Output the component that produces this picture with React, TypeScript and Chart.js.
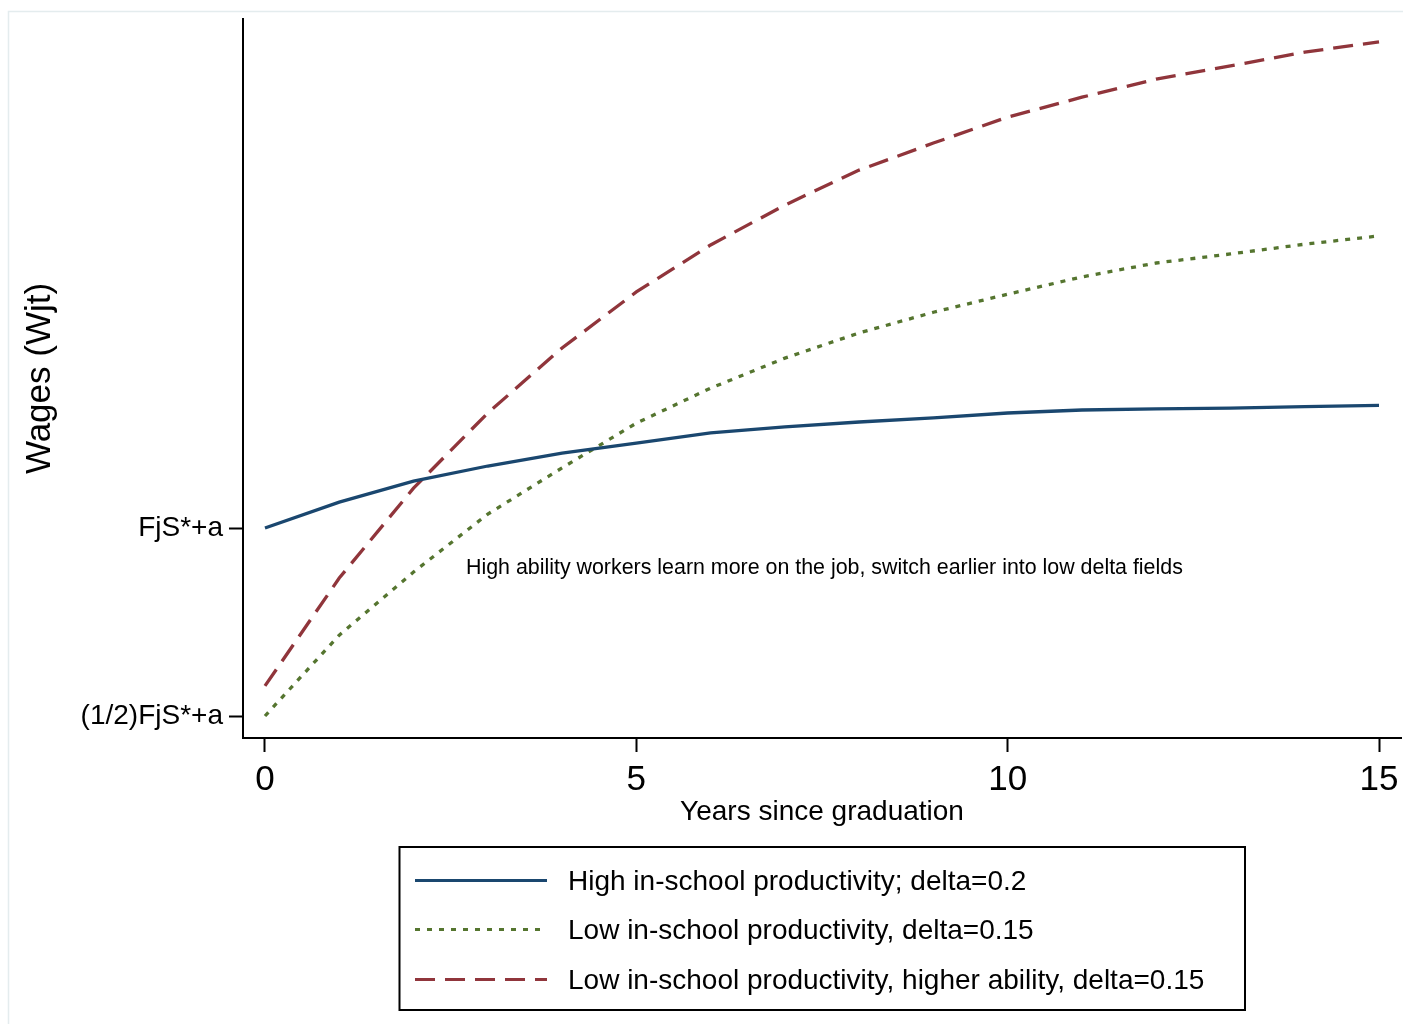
import React, { useEffect, useRef } from "react";
import { Chart, registerables } from "chart.js";

Chart.register(...registerables);

// ---- data ----
const years = [0, 1, 2, 3, 4, 5, 6, 7, 8, 9, 10, 11, 12, 13, 14, 15];
const highProductivity = [1.0, 1.069, 1.125, 1.165, 1.199, 1.226, 1.253, 1.269, 1.282, 1.293, 1.306, 1.314, 1.317, 1.319, 1.323, 1.326];
const lowProductivity = [0.5, 0.715, 0.883, 1.037, 1.16, 1.279, 1.372, 1.452, 1.519, 1.574, 1.622, 1.668, 1.705, 1.729, 1.755, 1.777];
const lowProductivityHighAbility = [0.58, 0.867, 1.106, 1.306, 1.479, 1.628, 1.753, 1.859, 1.952, 2.024, 2.093, 2.146, 2.194, 2.229, 2.266, 2.293];
const seriesLabels = [
  "High in-school productivity; delta=0.2",
  "Low in-school productivity, delta=0.15",
  "Low in-school productivity, higher ability, delta=0.15",
];
const xTickValues = [0, 5, 10, 15];
const yTickValues = [0.5, 1];
const yTickLabels = ["(1/2)FjS*+a", "FjS*+a"];
const xAxisTitle = "Years since graduation";
const yAxisTitle = "Wages (Wjt)";
const annotationText = "High ability workers learn more on the job, switch earlier into low delta fields";
const annotationX = 2.706;
const annotationY = 0.894;
const xMin = -0.296;
const xMax = 15.296;
const yMin = 0.4415;
const yMax = 2.354;

const FONT = "'Liberation Sans', Arial, Helvetica, sans-serif";

const toPoints = (vals: number[]) => years.map((x, i) => ({ x, y: vals[i] }));

const zeroPadding = (scale: any) => {
  scale.paddingTop = 0;
  scale.paddingBottom = 0;
  scale.paddingLeft = 0;
  scale.paddingRight = 0;
};

const outerFrame = {
  id: "outerFrame",
  beforeDraw(chart: any) {
    const ctx = chart.ctx;
    ctx.save();
    ctx.fillStyle = "#ffffff";
    ctx.fillRect(0, 0, chart.width, chart.height);
    ctx.strokeStyle = "#e4ecee";
    ctx.lineWidth = 1.5;
    ctx.strokeRect(8.5, 11.5, chart.width + 10, chart.height);
    ctx.restore();
  },
};

const annotation = {
  id: "annotationText",
  afterDatasetsDraw(chart: any) {
    const ctx = chart.ctx;
    const xs = chart.scales.x;
    const ys = chart.scales.y;
    ctx.save();
    ctx.font = `21.4px ${FONT}`;
    ctx.fillStyle = "#000000";
    ctx.textAlign = "left";
    ctx.textBaseline = "middle";
    ctx.fillText(annotationText, xs.getPixelForValue(annotationX), ys.getPixelForValue(annotationY));
    ctx.restore();
  },
};

const boxedLegend = {
  id: "boxedLegend",
  afterDraw(chart: any) {
    const ctx = chart.ctx;
    ctx.save();
    ctx.strokeStyle = "#000000";
    ctx.lineWidth = 2;
    ctx.setLineDash([]);
    ctx.strokeRect(399.5, 847, 845.5, 163);
    const rows = [880.5, 929.5, 979.5];
    chart.data.datasets.forEach((ds: any, i: number) => {
      const y = rows[i];
      ctx.beginPath();
      ctx.setLineDash(ds.borderDash || []);
      ctx.strokeStyle = ds.borderColor;
      ctx.lineWidth = 3;
      ctx.lineCap = "butt";
      ctx.moveTo(415, y);
      ctx.lineTo(547, y);
      ctx.stroke();
      ctx.setLineDash([]);
      ctx.fillStyle = "#000000";
      ctx.font = `28px ${FONT}`;
      ctx.textAlign = "left";
      ctx.textBaseline = "middle";
      ctx.fillText(ds.label, 568, y + 1.5);
    });
    ctx.restore();
  },
};

export default function App() {
  const ref = useRef<HTMLCanvasElement | null>(null);

  useEffect(() => {
    if (!ref.current) return;
    const chart = new Chart(ref.current, {
      type: "line",
      data: {
        datasets: [
          {
            label: seriesLabels[0],
            data: toPoints(highProductivity),
            borderColor: "#1a476f",
            borderWidth: 3.3,
            pointRadius: 0,
            tension: 0,
            fill: false,
          },
          {
            label: seriesLabels[1],
            data: toPoints(lowProductivity),
            borderColor: "#55752f",
            borderWidth: 3.3,
            borderDash: [5, 7],
            pointRadius: 0,
            tension: 0,
            fill: false,
          },
          {
            label: seriesLabels[2],
            data: toPoints(lowProductivityHighAbility),
            borderColor: "#90353b",
            borderWidth: 3.3,
            borderDash: [20, 10],
            pointRadius: 0,
            tension: 0,
            fill: false,
          },
        ],
      },
      options: {
        animation: false,
        responsive: false,
        devicePixelRatio: 1,
        layout: { padding: { left: 0, top: 19, right: 2, bottom: 195 } },
        plugins: {
          legend: { display: false },
          tooltip: { enabled: false },
          title: { display: false },
        },
        scales: {
          x: {
            type: "linear",
            min: xMin,
            max: xMax,
            afterBuildTicks: (scale: any) => {
              scale.ticks = xTickValues.map((v) => ({ value: v }));
            },
            afterFit: (scale: any) => {
              scale.height = 91;
              zeroPadding(scale);
            },
            ticks: {
              color: "#000000",
              font: { family: FONT, size: 35 },
              padding: 7,
              maxRotation: 0,
              autoSkip: false,
              callback: (v: any) => String(v),
            },
            grid: {
              drawOnChartArea: false,
              drawTicks: true,
              tickLength: 14,
              tickColor: "#000000",
              tickWidth: 2,
            },
            border: { display: true, color: "#000000", width: 2 },
            title: {
              display: true,
              text: xAxisTitle,
              color: "#000000",
              font: { family: FONT, size: 28 },
              padding: { top: 0, bottom: 0 },
            },
          },
          y: {
            type: "linear",
            min: yMin,
            max: yMax,
            afterBuildTicks: (scale: any) => {
              scale.ticks = yTickValues.map((v) => ({ value: v }));
            },
            afterFit: (scale: any) => {
              scale.width = 243;
              zeroPadding(scale);
            },
            ticks: {
              color: "#000000",
              font: { family: FONT, size: 28 },
              padding: 6,
              autoSkip: false,
              callback: (v: any) => {
                const i = yTickValues.indexOf(Number(v));
                return i >= 0 ? yTickLabels[i] : "";
              },
            },
            grid: {
              drawOnChartArea: false,
              drawTicks: true,
              tickLength: 14,
              tickColor: "#000000",
              tickWidth: 2,
            },
            border: { display: true, color: "#000000", width: 2 },
            title: {
              display: true,
              text: yAxisTitle,
              color: "#000000",
              font: { family: FONT, size: 35 },
              padding: { top: 19, bottom: 0 },
            },
          },
        },
      },
      plugins: [outerFrame, annotation, boxedLegend],
    } as any);
    return () => chart.destroy();
  }, []);

  return (
    <div style={{ position: "fixed", left: 0, top: 0, width: 1403, height: 1024, background: "#fff" }}>
      <canvas ref={ref} width={1403} height={1024} style={{ width: 1403, height: 1024, display: "block" }} />
    </div>
  );
}
